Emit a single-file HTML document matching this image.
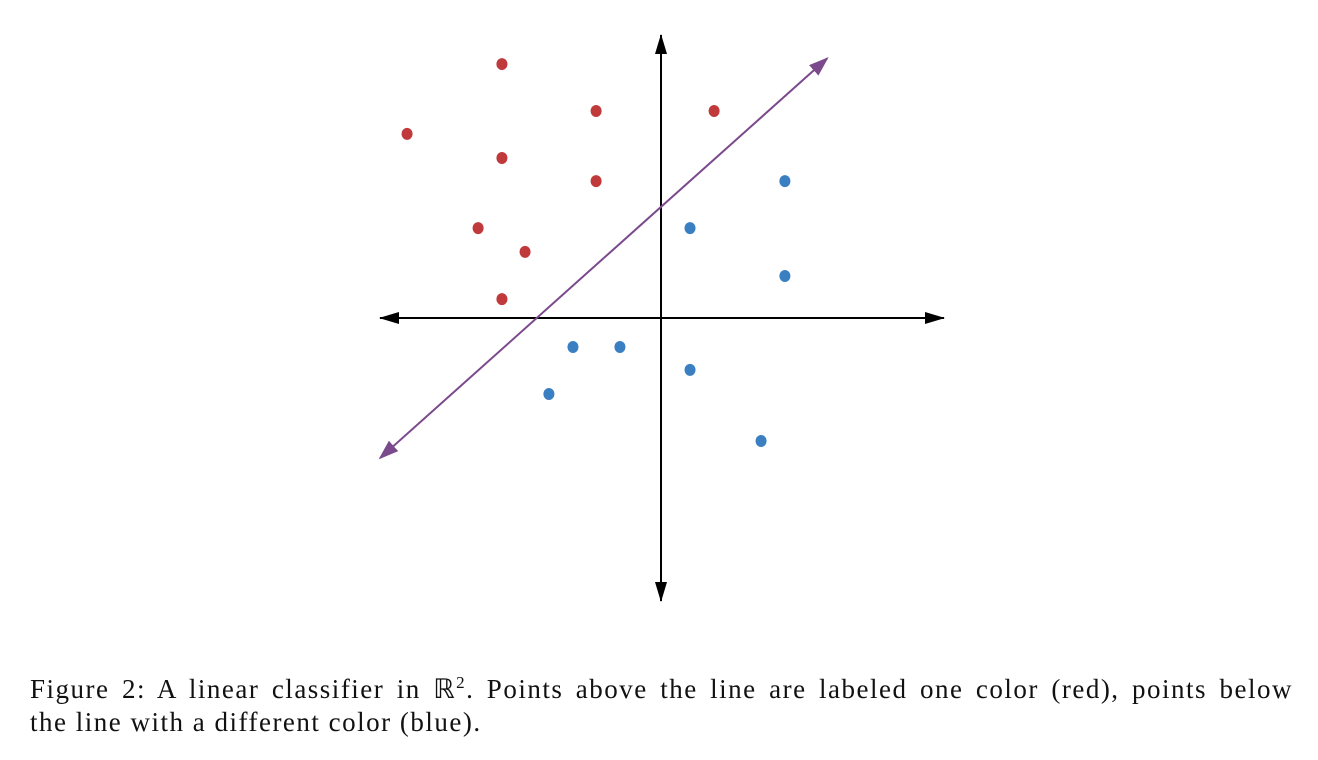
<!DOCTYPE html>
<html><head><meta charset="utf-8">
<style>
body{margin:0;width:1318px;height:760px;background:#fff;overflow:hidden;position:relative}
.cap{position:absolute;left:30px;width:1263px;font-family:"Liberation Serif",serif;font-size:27px;letter-spacing:1.5px;line-height:33px;color:#111;white-space:nowrap}
#c1{top:673px;text-align:justify;text-align-last:justify;white-space:normal;height:33px;overflow:hidden}
#c2{top:706px}
svg{position:absolute;left:0;top:0}
</style></head><body>
<svg width="1318" height="660">
<defs>
<marker id="ab" markerWidth="20" markerHeight="14" refX="19" refY="7" orient="auto" markerUnits="userSpaceOnUse"><path d="M0,1 L20,7 L0,13 Z" fill="#000"/></marker>
<marker id="ap" markerWidth="20" markerHeight="14" refX="18" refY="7" orient="auto" markerUnits="userSpaceOnUse"><path d="M0,0 L20,7 L0,14 Z" fill="#7b4a8c"/></marker>
</defs>
<g id="g"></g>
</svg>
<div class="cap" id="c1">Figure 2: A linear classifier in ℝ<sup style="font-size:17px;line-height:0">2</sup>. Points above the line are labeled one color (red), points below</div>
<div class="cap" id="c2">the line with a different color (blue).</div>
<script>
const redX=[-6.74,-2.75,2.25,-10.76,-6.74,-2.75,-7.75,-5.76,-6.74];
const redY=[10.76,8.77,8.77,7.8,6.78,5.8,3.81,2.8,0.8];
const blueX=[5.25,1.23,5.25,-3.73,-1.74,1.23,-4.75,4.24];
const blueY=[5.8,3.81,1.78,-1.23,-1.23,-2.2,-3.22,-5.21];
const lineX=[-11.9,7.04];
const lineY=[-5.93,11.0];
const U=23.6,OX=661,OY=318;
const sx=v=>OX+v*U, sy=v=>OY-v*U;
const NS="http://www.w3.org/2000/svg";
const g=document.getElementById('g');
function mk(t,a){const e=document.createElementNS(NS,t);for(const k in a)e.setAttribute(k,a[k]);g.appendChild(e);return e;}
let e;
e=mk('line',{x1:OX,y1:OY,x2:944,y2:OY,stroke:'#000','stroke-width':2,'marker-end':'url(#ab)'});

e=mk('line',{x1:OX,y1:OY,x2:380,y2:OY,stroke:'#000','stroke-width':2,'marker-end':'url(#ab)'});

e=mk('line',{x1:OX,y1:OY,x2:OX,y2:35,stroke:'#000','stroke-width':2,'marker-end':'url(#ab)'});

e=mk('line',{x1:OX,y1:OY,x2:OX,y2:601,stroke:'#000','stroke-width':2,'marker-end':'url(#ab)'});

const mx=(sx(lineX[0])+sx(lineX[1]))/2,my=(sy(lineY[0])+sy(lineY[1]))/2;
e=mk('line',{x1:mx,y1:my,x2:sx(lineX[1]),y2:sy(lineY[1]),stroke:'#7b4a8c','stroke-width':2,'marker-end':'url(#ap)'});

e=mk('line',{x1:mx,y1:my,x2:sx(lineX[0]),y2:sy(lineY[0]),stroke:'#7b4a8c','stroke-width':2,'marker-end':'url(#ap)'});

redX.forEach((x,i)=>{e=mk('ellipse',{cx:sx(x),cy:sy(redY[i]),rx:5.5,ry:6,fill:'#c0393b'});

});
blueX.forEach((x,i)=>{e=mk('ellipse',{cx:sx(x),cy:sy(blueY[i]),rx:5.5,ry:6,fill:'#3a7fc1'});

});
</script>
</body></html>
